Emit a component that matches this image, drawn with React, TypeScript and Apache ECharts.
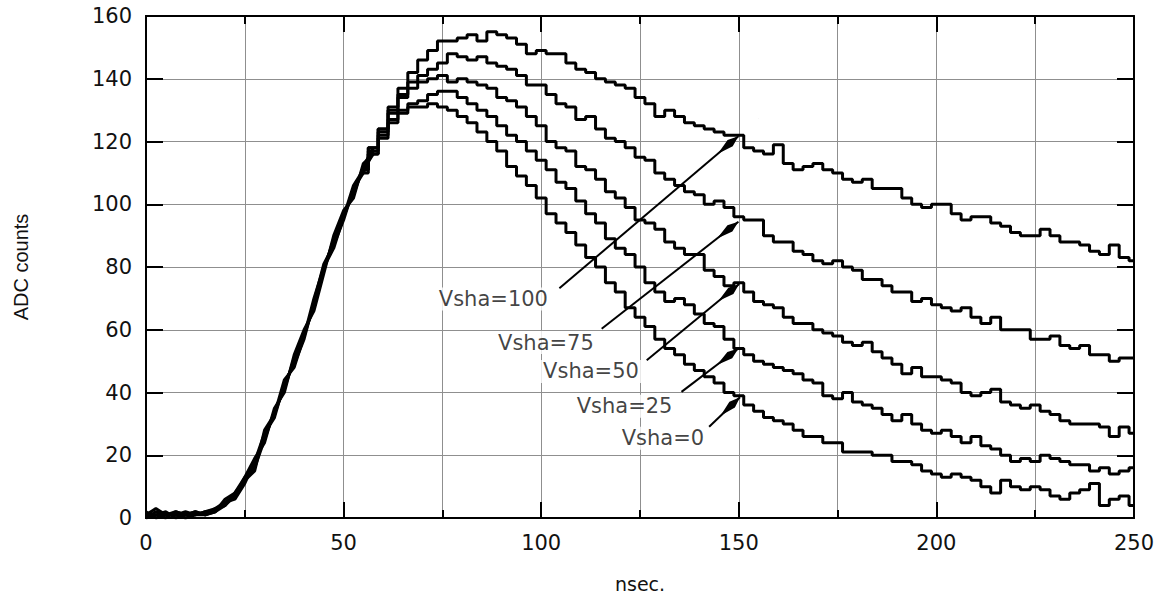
import { useEffect, useRef } from "react";
import * as echarts from "echarts";

// sample times (ns)
const times = [
  0, 2.5, 5, 7.5, 10, 12.5, 15, 17.5, 20, 22.5, 25, 27.5, 30, 32.5, 35, 37.5, 40, 42.5, 45, 47.5, 50, 52.5, 55,
  57.5, 60, 62.5, 65, 67.5, 70, 72.5, 75,
  77.5, 80, 82.5, 85, 87.5, 90, 92.5, 95, 97.5, 100,
  102.5, 105, 107.5, 110, 112.5, 115, 117.5, 120, 122.5, 125,
  127.5, 130, 132.5, 135, 137.5, 140, 142.5, 145, 147.5, 150,
  152.5, 155, 157.5, 160, 162.5, 165, 167.5, 170, 172.5, 175,
  177.5, 180, 182.5, 185, 187.5, 190, 192.5, 195, 197.5, 200,
  202.5, 205, 207.5, 210, 212.5, 215, 217.5, 220, 222.5, 225,
  227.5, 230, 232.5, 235, 237.5, 240, 242.5, 245, 247.5, 250,
];

// rising edge (0 .. 55 ns), per curve
const riseV100 = [1, 1, 0, 2, 1, 2, 1, 3, 5, 7, 12, 17, 26, 33, 42, 50, 58, 68, 80, 88, 96, 104, 111];
const riseV75 = [0, 2, 1, 1, 2, 1, 2, 2, 4, 8, 13, 16, 25, 34, 41, 51, 59, 67, 79, 89, 97, 103, 112];
const riseV50 = [1, 3, 1, 1, 0, 1, 1, 2, 5, 6, 11, 18, 27, 32, 43, 49, 57, 69, 81, 87, 95, 105, 110];
const riseV25 = [2, 0, 1, 2, 1, 1, 2, 3, 4, 7, 13, 19, 24, 35, 40, 52, 60, 66, 78, 90, 98, 102, 113];
const riseV0 = [0, 1, 2, 0, 1, 2, 1, 2, 6, 8, 12, 15, 28, 33, 44, 48, 58, 70, 80, 86, 96, 106, 111];

// 57.5 .. 250 ns
const tailV100 = [
  118, 124, 131, 137, 142, 146, 149, 152,
  152, 153, 154, 152, 155, 154, 153, 151, 148, 149,
  148, 148, 145, 143, 142, 140, 139, 138, 137, 134,
  132, 128, 130, 128, 126, 125, 124, 123, 122, 122,
  118, 117, 116, 119, 113, 111, 112, 113, 111, 110,
  108, 107, 108, 105, 105, 105, 102, 100, 99, 100,
  100, 97, 95, 96, 96, 94, 93, 91, 90, 90,
  92, 90, 88, 88, 87, 85, 84, 87, 83, 82,
];
const tailV75 = [
  118, 124, 130, 135, 139, 141, 143, 145,
  148, 147, 146, 147, 145, 144, 143, 141, 138, 138,
  135, 132, 131, 127, 128, 124, 121, 120, 118, 115,
  114, 110, 108, 106, 104, 103, 100, 101, 99, 96,
  95, 95, 90, 88, 88, 85, 84, 82, 81, 82,
  80, 79, 76, 76, 74, 72, 72, 69, 70, 68,
  67, 66, 67, 64, 62, 64, 60, 60, 60, 57,
  57, 58, 55, 54, 55, 52, 52, 50, 51, 51,
];
const tailV50 = [
  117, 123, 129, 134, 137, 139, 140, 141,
  139, 140, 139, 138, 137, 134, 133, 131, 128, 125,
  120, 118, 117, 112, 111, 108, 104, 102, 99, 95,
  94, 92, 88, 86, 84, 84, 79, 77, 74, 75,
  72, 69, 68, 67, 64, 62, 62, 60, 59, 58,
  56, 55, 56, 53, 51, 49, 46, 48, 45, 45,
  44, 43, 40, 39, 40, 41, 37, 36, 35, 36,
  34, 33, 31, 30, 30, 30, 29, 26, 29, 27,
];
const tailV25 = [
  116, 122, 127, 130, 132, 133, 135, 136,
  136, 134, 132, 130, 128, 125, 122, 120, 117, 114,
  111, 107, 105, 101, 97, 94, 89, 86, 84, 80,
  75, 72, 69, 70, 68, 65, 62, 61, 57, 54,
  52, 50, 49, 48, 47, 46, 44, 43, 39, 38,
  40, 37, 36, 35, 33, 31, 33, 30, 28, 27,
  28, 26, 24, 26, 23, 22, 20, 18, 19, 18,
  20, 19, 18, 17, 17, 15, 16, 14, 15, 16,
];
const tailV0 = [
  116, 121, 126, 129, 131, 131, 132, 131,
  130, 128, 126, 123, 120, 117, 112, 109, 106, 102,
  97, 94, 91, 87, 83, 80, 75, 72, 67, 64,
  61, 57, 54, 52, 49, 47, 45, 43, 40, 39,
  36, 34, 32, 31, 30, 28, 26, 26, 24, 24,
  21, 21, 21, 20, 20, 18, 18, 17, 15, 14,
  13, 14, 13, 12, 10, 8, 12, 10, 9, 10,
  9, 7, 6, 8, 9, 11, 4, 6, 7, 4,
];

const seriesNames = ["Vsha=100", "Vsha=75", "Vsha=50", "Vsha=25", "Vsha=0"];
const rises = [riseV100, riseV75, riseV50, riseV25, riseV0];
const tails = [tailV100, tailV75, tailV50, tailV25, tailV0];

// annotation arrows (data coordinates: ns, ADC counts)
const arrowTails = [[104.6, 73.2], [115.3, 60.3], [126.7, 50.3], [135.5, 40.2], [142.5, 29.1]];
const arrowTips = [[149.9, 121.7], [149.9, 94.4], [150.1, 74.6], [149.9, 54.0], [150.3, 38.5]];
const labelPos = [[87.9, 69.8], [101.2, 55.9], [112.6, 46.7], [121.1, 35.6], [130.8, 25.4]];

const xTicks = { min: 0, max: 250, interval: 50 };
const yTicks = { min: 0, max: 160, interval: 20 };

const H_FONT = "DejaVu Sans";
const V_FONT = "Liberation Sans";
const GRID_COLOR = "#8f8f8f";
const TICK_COLOR = "#000";
const ARROW_PATH = "path://M4,0 L4.02,0.5 L3.98,0.5 Z M4,40 L8,56 L4,80 L0,56 Z";

export default function App() {
  const ref = useRef<HTMLDivElement>(null);
  useEffect(() => {
    if (!ref.current) return;
    const chart = echarts.init(ref.current, undefined, { renderer: "svg" });

    const riseLen = rises[0].length;
    const lineSeries: any[] = [];
    tails.forEach((tail, k) => {
      const vals = rises[k].concat(tail);
      const pts = times.map((t, i) => [t, vals[i]]);
      // smooth-looking rising edge
      lineSeries.push({
        name: seriesNames[k],
        type: "line",
        data: pts.slice(0, riseLen + 1),
        showSymbol: false,
        symbol: "none",
        lineStyle: { color: "#000", width: 3 },
        z: 3,
      });
      lineSeries.push({
        name: seriesNames[k],
        type: "line",
        data: pts.slice(riseLen - 1),
        showSymbol: false,
        symbol: "none",
        step: "middle",
        lineStyle: { color: "#000", width: 3 },
        z: 3,
      });
    });

    const xAxisDef = (pos: string, mode: "grid" | "ticks") => ({
      type: "value",
      position: pos,
      min: xTicks.min,
      max: xTicks.max,
      interval: xTicks.interval,
      axisLine: { show: true, onZero: false, lineStyle: { color: "#000", width: 2 } },
      axisTick: {
        show: mode === "ticks",
        inside: true,
        length: 16,
        lineStyle: { color: TICK_COLOR, width: 2 },
      },
      minorTick: {
        show: mode === "ticks",
        splitNumber: 2,
        length: 8,
        lineStyle: { color: TICK_COLOR, width: 2 },
      },
      axisLabel:
        mode === "grid" && pos === "bottom"
          ? { show: true, margin: 14, fontFamily: H_FONT, fontSize: 21, color: "#111" }
          : { show: false },
      splitLine: { show: mode === "grid", lineStyle: { color: GRID_COLOR, width: 1 } },
      minorSplitLine: { show: mode === "grid", lineStyle: { color: GRID_COLOR, width: 1 } },
    });
    const yAxisDef = (pos: string, mode: "grid" | "ticks") => ({
      type: "value",
      position: pos,
      min: yTicks.min,
      max: yTicks.max,
      interval: yTicks.interval,
      axisLine: { show: true, onZero: false, lineStyle: { color: "#000", width: 2 } },
      axisTick: {
        show: mode === "ticks",
        inside: true,
        length: 17,
        lineStyle: { color: TICK_COLOR, width: 2 },
      },
      axisLabel:
        mode === "grid" && pos === "left"
          ? { show: true, margin: 14, fontFamily: H_FONT, fontSize: 21, color: "#111" }
          : { show: false },
      splitLine: { show: mode === "grid", lineStyle: { color: GRID_COLOR, width: 1 } },
    });

    chart.setOption({
      animation: false,
      backgroundColor: "#fff",
      grid: { left: 146, right: 25, top: 16, bottom: 78, containLabel: false },
      xAxis: [
        {
          ...xAxisDef("bottom", "grid"),
          name: "nsec.",
          nameLocation: "middle",
          nameGap: 56,
          nameTextStyle: { fontFamily: H_FONT, fontSize: 19, color: "#111" },
        },
        xAxisDef("bottom", "ticks"),
        xAxisDef("top", "ticks"),
      ],
      yAxis: [
        {
          ...yAxisDef("left", "grid"),
          name: "ADC counts",
          nameLocation: "middle",
          nameGap: 115,
          nameRotate: 90,
          nameTextStyle: { fontFamily: V_FONT, fontSize: 20, color: "#111" },
        },
        yAxisDef("left", "ticks"),
        yAxisDef("right", "ticks"),
      ],
      series: [
        ...lineSeries,
        {
          name: "labels",
          type: "scatter",
          symbolSize: 1,
          itemStyle: { color: "rgba(0,0,0,0)" },
          data: labelPos.map((p, i) => ({ name: seriesNames[i], value: p })),
          label: {
            show: true,
            position: "inside",
            formatter: "{b}",
            fontFamily: H_FONT,
            fontSize: 21,
            color: "#111",
            backgroundColor: "#fff",
            padding: [1, 3],
          },
          z: 5,
          markLine: {
            silent: true,
            symbol: ["none", ARROW_PATH],
            symbolSize: [8, 54],
            lineStyle: { color: "#000", width: 2, type: "solid" },
            label: { show: false },
            data: arrowTails.map((a, i) => [{ coord: a }, { coord: arrowTips[i] }]),
          },
        },
      ],
    });
    return () => chart.dispose();
  }, []);
  return (
    <div
      ref={ref}
      style={{ position: "fixed", left: 0, top: 0, width: 1159, height: 598, background: "#fff" }}
    />
  );
}
